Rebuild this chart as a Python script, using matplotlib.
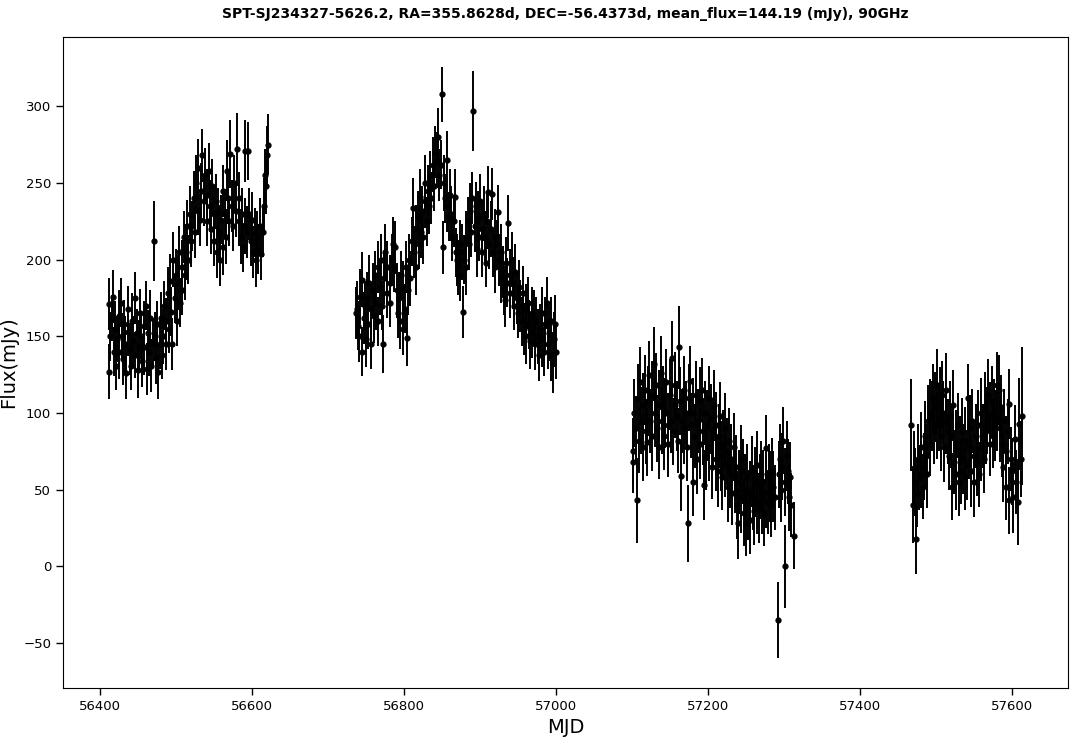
import numpy as np
import matplotlib
matplotlib.use("Agg")
import matplotlib.pyplot as plt

# (MJD, flux mJy, 1-sigma error mJy)
season1 = [
    (56411, 171, 17), (56412, 127, 18), (56413, 150, 16), (56415, 162, 15), (56416, 176, 17),
    (56418, 140, 16), (56419, 155, 18), (56421, 131, 16), (56422, 148, 15), (56424, 163, 17),
    (56425, 140, 18), (56427, 172, 16), (56428, 150, 15), (56430, 135, 17), (56431, 158, 16),
    (56433, 145, 18), (56434, 126, 17), (56436, 153, 16), (56437, 168, 15), (56439, 142, 17),
    (56440, 131, 16), (56442, 160, 18), (56443, 147, 16), (56445, 175, 17), (56446, 138, 15),
    (56448, 152, 16), (56449, 128, 18), (56451, 144, 17), (56452, 165, 16), (56454, 150, 15),
    (56455, 134, 17), (56457, 157, 16), (56458, 143, 18), (56460, 170, 16), (56461, 129, 17),
    (56463, 152, 15), (56464, 140, 16), (56466, 162, 18), (56467, 131, 17), (56469, 146, 16),
    (56470, 212, 26), (56472, 150, 16), (56473, 136, 17), (56475, 158, 15), (56476, 127, 18),
    (56478, 145, 16), (56480, 162, 17), (56481, 138, 16), (56483, 150, 18), (56484, 170, 16),
    (56486, 145, 17), (56487, 160, 15), (56489, 178, 17), (56490, 155, 16), (56492, 186, 18),
    (56493, 166, 16), (56495, 145, 17), (56496, 200, 18), (56498, 175, 16), (56499, 190, 17),
    (56501, 160, 16), (56502, 185, 18), (56504, 205, 17), (56505, 172, 16), (56507, 195, 18),
    (56508, 180, 16), (56510, 215, 17), (56511, 190, 16), (56513, 205, 18), (56514, 222, 17),
    (56516, 200, 16), (56518, 230, 18), (56519, 212, 17), (56521, 222, 16), (56523, 240, 18),
    (56524, 218, 17), (56526, 250, 18), (56528, 232, 16), (56529, 260, 19), (56531, 226, 17),
    (56533, 245, 18), (56534, 268, 17), (56536, 238, 16), (56538, 255, 18), (56540, 242, 17),
    (56541, 225, 16), (56543, 258, 18), (56544, 235, 17), (56546, 220, 16), (56547, 248, 18),
    (56549, 230, 17), (56550, 212, 16), (56552, 238, 18), (56553, 205, 17), (56555, 231, 16),
    (56556, 218, 18), (56558, 200, 17), (56559, 226, 16), (56561, 208, 18), (56562, 245, 17),
    (56564, 230, 16), (56565, 215, 18), (56567, 258, 20), (56568, 240, 17), (56570, 225, 16),
    (56571, 269, 22), (56573, 235, 17), (56575, 222, 16), (56576, 250, 18), (56578, 232, 17),
    (56580, 272, 24), (56582, 240, 17), (56583, 225, 16), (56585, 215, 18), (56586, 230, 17),
    (56588, 208, 16), (56590, 222, 18), (56591, 271, 20), (56593, 218, 17), (56595, 271, 19),
    (56596, 230, 17), (56598, 212, 16), (56600, 226, 18), (56601, 205, 17), (56603, 218, 16),
    (56605, 200, 18), (56606, 215, 17), (56608, 207, 16), (56610, 222, 18), (56612, 204, 17),
    (56614, 218, 16), (56615, 235, 18), (56617, 255, 17), (56618, 248, 18), (56620, 268, 19),
    (56621, 275, 20),
]

season2 = [
    (56737, 165, 17), (56738, 168, 18), (56739, 157, 16), (56741, 150, 17), (56742, 176, 18),
    (56744, 140, 16), (56745, 187, 18), (56747, 162, 17), (56748, 170, 16), (56750, 148, 18),
    (56751, 175, 17), (56753, 158, 16), (56754, 185, 18), (56756, 168, 17), (56757, 145, 16),
    (56759, 180, 18), (56760, 163, 17), (56762, 190, 16), (56763, 172, 18), (56765, 195, 17),
    (56766, 160, 16), (56768, 182, 18), (56769, 200, 17), (56771, 170, 16), (56772, 145, 19),
    (56774, 188, 17), (56775, 205, 18), (56777, 178, 16), (56778, 195, 17), (56781, 185, 18),
    (56782, 172, 16), (56784, 200, 17), (56785, 210, 18), (56787, 195, 16), (56788, 208, 17),
    (56790, 180, 18), (56792, 165, 16), (56793, 175, 17), (56795, 160, 18), (56796, 190, 16),
    (56798, 155, 17), (56799, 181, 18), (56801, 168, 16), (56802, 195, 17), (56804, 149, 18),
    (56805, 180, 16), (56807, 200, 17), (56808, 188, 18), (56810, 212, 16), (56812, 234, 19),
    (56813, 205, 17), (56815, 220, 16), (56816, 195, 18), (56818, 228, 17), (56819, 210, 16),
    (56821, 241, 18), (56822, 218, 17), (56824, 232, 16), (56825, 215, 18), (56827, 238, 17),
    (56828, 250, 18), (56830, 225, 16), (56831, 245, 17), (56833, 235, 18), (56834, 255, 16),
    (56836, 240, 17), (56838, 262, 18), (56839, 248, 16), (56841, 270, 17), (56843, 265, 18),
    (56845, 280, 19), (56846, 255, 17), (56848, 262, 16), (56850, 308, 18), (56851, 208, 17),
    (56853, 250, 18), (56854, 240, 16), (56856, 235, 17), (56857, 265, 19), (56859, 228, 16),
    (56860, 242, 17), (56862, 230, 18), (56863, 215, 16), (56865, 225, 17), (56867, 241, 18),
    (56868, 205, 16), (56870, 200, 17), (56871, 195, 18), (56873, 210, 16), (56874, 190, 17),
    (56876, 205, 18), (56878, 166, 17), (56879, 200, 16), (56881, 215, 17), (56882, 195, 18),
    (56884, 225, 16), (56885, 210, 17), (56887, 232, 18), (56888, 218, 16), (56890, 240, 17),
    (56891, 297, 26), (56893, 222, 17), (56894, 235, 16), (56896, 207, 18), (56897, 228, 17),
    (56899, 215, 16), (56900, 238, 18), (56902, 220, 17), (56903, 205, 16), (56905, 230, 18),
    (56906, 215, 17), (56908, 198, 16), (56909, 225, 18), (56911, 244, 17), (56912, 210, 16),
    (56914, 220, 18), (56916, 243, 17), (56917, 205, 16), (56919, 215, 18), (56920, 195, 17),
    (56922, 210, 16), (56924, 231, 18), (56925, 200, 17), (56927, 188, 16), (56928, 205, 18),
    (56930, 192, 17), (56931, 180, 16), (56933, 174, 18), (56934, 198, 17), (56936, 185, 16),
    (56937, 224, 18), (56939, 190, 17), (56940, 178, 16), (56942, 200, 18), (56943, 185, 17),
    (56945, 170, 16), (56946, 192, 18), (56948, 175, 17), (56950, 165, 16), (56951, 182, 18),
    (56953, 170, 17), (56955, 160, 16), (56956, 178, 18), (56958, 155, 17), (56960, 168, 16),
    (56961, 150, 18), (56963, 172, 17), (56964, 158, 16), (56966, 147, 18), (56968, 165, 17),
    (56969, 152, 16), (56971, 162, 18), (56972, 145, 17), (56974, 160, 16), (56976, 150, 18),
    (56977, 138, 17), (56979, 155, 16), (56981, 148, 18), (56982, 165, 17), (56984, 140, 16),
    (56986, 158, 18), (56988, 172, 17), (56989, 145, 16), (56991, 152, 18), (56993, 138, 17),
    (56994, 160, 16), (56996, 133, 20), (56997, 148, 18), (56999, 158, 19), (57000, 140, 18),
]

season3 = [
    (57101, 75, 22), (57102, 68, 20), (57103, 100, 22), (57105, 90, 21), (57106, 43, 28),
    (57108, 110, 22), (57109, 82, 21), (57111, 120, 23), (57112, 95, 22), (57114, 105, 21),
    (57115, 78, 22), (57117, 115, 23), (57118, 88, 21), (57120, 81, 22), (57121, 108, 23),
    (57123, 125, 22), (57124, 95, 21), (57126, 112, 22), (57127, 85, 23), (57129, 132, 24),
    (57130, 100, 22), (57132, 118, 21), (57133, 90, 22), (57135, 105, 23), (57136, 78, 21),
    (57138, 126, 24), (57139, 95, 22), (57141, 110, 21), (57142, 85, 22), (57144, 100, 23),
    (57145, 120, 22), (57147, 92, 21), (57148, 80, 22), (57150, 112, 23), (57151, 95, 21),
    (57153, 136, 24), (57154, 88, 22), (57156, 105, 21), (57157, 118, 22), (57159, 98, 23),
    (57160, 82, 21), (57162, 143, 27), (57163, 108, 22), (57165, 59, 23), (57166, 95, 21),
    (57168, 115, 22), (57169, 90, 23), (57171, 100, 21), (57172, 78, 22), (57174, 28, 25),
    (57175, 110, 22), (57177, 121, 23), (57178, 92, 21), (57180, 55, 22), (57181, 100, 23),
    (57183, 85, 21), (57184, 112, 22), (57186, 70, 23), (57187, 95, 21), (57189, 108, 22),
    (57190, 80, 23), (57192, 115, 21), (57193, 88, 22), (57195, 53, 23), (57196, 100, 21),
    (57198, 72, 22), (57199, 92, 23), (57201, 110, 21), (57202, 78, 22), (57204, 96, 23),
    (57205, 65, 21), (57207, 88, 22), (57208, 105, 23), (57210, 70, 21), (57211, 92, 22),
    (57213, 62, 23), (57214, 85, 21), (57216, 98, 22), (57217, 72, 23), (57219, 58, 21),
    (57220, 80, 22), (57222, 90, 23), (57223, 66, 21), (57225, 75, 22), (57226, 52, 23),
    (57228, 82, 21), (57229, 60, 22), (57231, 70, 23), (57232, 48, 21), (57234, 78, 22),
    (57235, 58, 23), (57237, 65, 21), (57238, 40, 22), (57240, 28, 23), (57241, 55, 21),
    (57243, 70, 22), (57244, 45, 23), (57246, 62, 21), (57247, 35, 22), (57249, 50, 23),
    (57250, 28, 21), (57252, 58, 22), (57253, 40, 23), (57255, 48, 21), (57256, 30, 22),
    (57258, 62, 23), (57259, 45, 21), (57261, 36, 22), (57262, 55, 23), (57264, 42, 21),
    (57265, 66, 22), (57267, 38, 23), (57268, 52, 21), (57270, 60, 22), (57271, 44, 23),
    (57273, 55, 21), (57274, 35, 22), (57276, 48, 23), (57277, 77, 22), (57279, 42, 21),
    (57280, 58, 22), (57282, 52, 23), (57283, 40, 21), (57285, 62, 22), (57286, 52, 23),
    (57288, 45, 21), (57292, -35, 25), (57293, 60, 22), (57295, 70, 23), (57296, 50, 21),
    (57298, 65, 22), (57299, 82, 22), (57301, 0, 27), (57302, 55, 22), (57304, 72, 23),
    (57305, 62, 21), (57307, 45, 22), (57308, 58, 23), (57310, 40, 21), (57313, 20, 22),
]

season4 = [
    (57467, 92, 30), (57470, 40, 25), (57471, 64, 24), (57472, 55, 22), (57474, 18, 23),
    (57475, 48, 22), (57477, 70, 23), (57478, 58, 21), (57480, 60, 22), (57481, 78, 23),
    (57483, 52, 21), (57484, 65, 22), (57486, 85, 23), (57487, 72, 21), (57489, 60, 22),
    (57490, 95, 23), (57492, 100, 22), (57493, 80, 21), (57495, 98, 23), (57496, 110, 22),
    (57498, 88, 21), (57499, 104, 23), (57501, 92, 22), (57502, 118, 24), (57504, 96, 21),
    (57505, 108, 22), (57507, 85, 23), (57508, 112, 22), (57510, 100, 21), (57511, 78, 23),
    (57513, 95, 22), (57514, 115, 24), (57516, 88, 21), (57517, 72, 22), (57519, 98, 23),
    (57520, 85, 21), (57521, 52, 22), (57523, 105, 23), (57524, 68, 21), (57526, 80, 22),
    (57527, 60, 23), (57529, 92, 21), (57530, 55, 22), (57532, 75, 23), (57533, 62, 21),
    (57535, 88, 22), (57536, 70, 23), (57538, 58, 21), (57539, 82, 22), (57541, 66, 23),
    (57542, 110, 22), (57544, 78, 21), (57545, 90, 22), (57547, 62, 23), (57548, 95, 21),
    (57550, 72, 22), (57551, 55, 23), (57553, 85, 21), (57554, 68, 22), (57556, 92, 23),
    (57557, 60, 21), (57559, 78, 22), (57560, 100, 23), (57562, 85, 21), (57563, 70, 22),
    (57565, 104, 23), (57566, 88, 21), (57568, 95, 22), (57569, 112, 23), (57571, 80, 21),
    (57572, 98, 22), (57574, 108, 23), (57575, 85, 21), (57577, 100, 22), (57578, 92, 23),
    (57580, 118, 22), (57581, 96, 21), (57583, 115, 23), (57584, 90, 22), (57586, 104, 21),
    (57587, 80, 22), (57589, 65, 23), (57590, 95, 21), (57592, 52, 22), (57593, 75, 23),
    (57595, 88, 21), (57596, 43, 22), (57597, 106, 23), (57599, 70, 21), (57601, 62, 22),
    (57602, 45, 23), (57604, 83, 22), (57606, 55, 21), (57608, 42, 28), (57610, 93, 30),
    (57612, 70, 25), (57614, 98, 45),
]

rows = season1 + season2 + season3 + season4
mjd = np.array([r[0] for r in rows], dtype=float)
flux = np.array([r[1] for r in rows], dtype=float)
err = np.array([r[2] for r in rows], dtype=float)

fig = plt.figure(figsize=(10.81, 7.39), dpi=100)
ax = fig.add_axes([0.0583, 0.069, 0.9297, 0.881])

ax.errorbar(mjd, flux, yerr=err, fmt='o', color='black', ecolor='black',
            markersize=3.5, elinewidth=1.4, capsize=0)

ax.set_xlabel('MJD', fontsize=14)
ax.set_ylabel('Flux(mJy)', fontsize=14)
ax.set_title('SPT-SJ234327-5626.2, RA=355.8628d, DEC=-56.4373d, mean_flux=144.19 (mJy), 90GHz',
             fontsize=10, fontweight='bold', pad=14)
ax.tick_params(labelsize=9.5, length=5, width=1)

fig.savefig('out.png', dpi=100)
plt.close(fig)
